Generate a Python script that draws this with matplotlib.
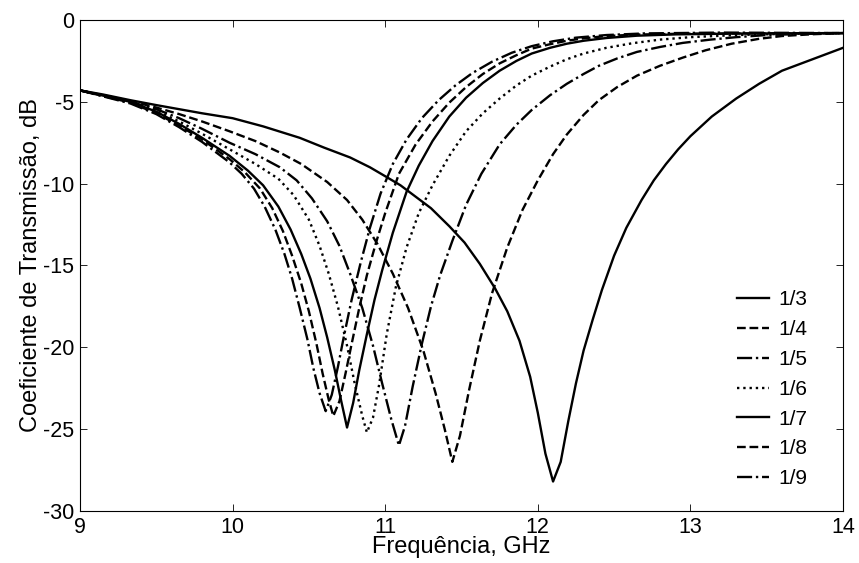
import numpy as np
import matplotlib
matplotlib.use('Agg')
import matplotlib.pyplot as plt

plt.rcParams['font.family'] = ['Liberation Sans', 'DejaVu Sans']
plt.rcParams['axes.unicode_minus'] = False

labels = ['1/3', '1/4', '1/5', '1/6', '1/7', '1/8', '1/9']

# 1/3
f13 = [9.0, 9.15, 9.33, 9.5, 9.65, 9.8, 10.0, 10.2, 10.44, 10.6, 10.77, 10.9, 11.01, 11.1,
       11.2, 11.3, 11.42, 11.52, 11.62, 11.72, 11.8, 11.88, 11.95, 12.0, 12.05, 12.1, 12.15,
       12.2, 12.25, 12.3, 12.36, 12.42, 12.5, 12.58, 12.68, 12.76, 12.84, 12.92, 13.0, 13.14,
       13.3, 13.45, 13.6, 13.8, 14.0]
s13 = [-4.3, -4.55, -4.9, -5.2, -5.45, -5.7, -6.0, -6.5, -7.2, -7.8, -8.4, -9.0, -9.6, -10.1,
       -10.8, -11.5, -12.6, -13.6, -14.9, -16.4, -17.8, -19.6, -21.8, -24.0, -26.5, -28.2, -27.0,
       -24.5, -22.2, -20.2, -18.3, -16.5, -14.4, -12.7, -11.0, -9.8, -8.8, -7.9, -7.1, -5.9,
       -4.8, -3.9, -3.1, -2.4, -1.7]
# 1/4
f14 = [9.0, 9.33, 9.5, 9.65, 9.8, 9.98, 10.15, 10.31, 10.45, 10.62, 10.75, 10.85, 10.95, 11.05,
       11.15, 11.25, 11.33, 11.39, 11.44, 11.49, 11.55, 11.62, 11.7, 11.8, 11.9, 12.0, 12.1,
       12.19, 12.3, 12.4, 12.52, 12.65, 12.8, 12.95, 13.1, 13.27, 13.45, 13.6, 13.8, 14.0]
s14 = [-4.3, -4.95, -5.35, -5.75, -6.2, -6.8, -7.4, -8.1, -8.8, -9.9, -11.0, -12.2, -13.7, -15.5,
       -17.6, -20.2, -22.8, -25.0, -27.0, -25.4, -22.6, -19.6, -16.7, -13.9, -11.6, -9.8, -8.2,
       -7.0, -5.8, -4.9, -4.1, -3.4, -2.8, -2.3, -1.85, -1.45, -1.15, -0.98, -0.87, -0.8]
# 1/5
f15 = [9.0, 9.33, 9.5, 9.65, 9.8, 9.98, 10.15, 10.31, 10.42, 10.52, 10.62, 10.7, 10.77, 10.85,
       10.92, 10.98, 11.04, 11.09, 11.13, 11.18, 11.24, 11.3, 11.36, 11.44, 11.53, 11.63, 11.75,
       11.86, 11.96, 12.08, 12.19, 12.3, 12.4, 12.52, 12.65, 12.8, 12.95, 13.13, 13.3, 13.5,
       13.75, 14.0]
s15 = [-4.3, -5.0, -5.45, -6.0, -6.65, -7.5, -8.2, -9.0, -9.8, -10.9, -12.3, -13.8, -15.5, -17.6,
       -19.9, -22.2, -24.4, -26.0, -24.8, -22.4, -19.8, -17.5, -15.6, -13.5, -11.3, -9.4, -7.6,
       -6.4, -5.5, -4.6, -3.9, -3.3, -2.8, -2.35, -1.95, -1.65, -1.4, -1.2, -1.05, -0.92,
       -0.85, -0.8]
# 1/6
f16 = [9.0, 9.33, 9.5, 9.65, 9.8, 9.98, 10.15, 10.3, 10.4, 10.5, 10.57, 10.63, 10.69, 10.75,
       10.8, 10.85, 10.88, 10.92, 10.96, 11.01, 11.07, 11.14, 11.22, 11.31, 11.42, 11.53, 11.64,
       11.75, 11.86, 11.96, 12.08, 12.19, 12.3, 12.45, 12.62, 12.8, 13.0, 13.3, 13.6, 14.0]
s16 = [-4.3, -5.0, -5.55, -6.2, -6.95, -7.9, -8.8, -9.7, -10.7, -12.2, -13.8, -15.5, -17.5, -19.9,
       -22.2, -24.2, -25.2, -24.3, -22.3, -19.2, -16.3, -13.9, -11.8, -10.1, -8.3, -6.8, -5.7,
       -4.8, -4.0, -3.4, -2.85, -2.4, -2.05, -1.7, -1.42, -1.2, -1.05, -0.92, -0.85, -0.8]
# 1/7
f17 = [9.0, 9.33, 9.5, 9.65, 9.8, 9.98, 10.1, 10.2, 10.3, 10.38, 10.45, 10.51, 10.57, 10.62,
       10.67, 10.71, 10.75, 10.79, 10.83, 10.88, 10.93, 10.98, 11.05, 11.14, 11.22, 11.31, 11.42,
       11.53, 11.64, 11.75, 11.86, 11.96, 12.08, 12.19, 12.3, 12.45, 12.65, 12.9, 13.3, 14.0]
s17 = [-4.3, -5.0, -5.6, -6.35, -7.2, -8.3, -9.2, -10.1, -11.4, -12.8, -14.3, -15.8, -17.6, -19.4,
       -21.4, -23.2, -24.9, -23.4, -21.4, -19.2, -17.1, -15.3, -13.0, -10.5, -8.9, -7.4, -5.9,
       -4.75, -3.85, -3.1, -2.5, -2.05, -1.7, -1.45, -1.27, -1.1, -0.96, -0.88, -0.83, -0.8]
# 1/8
f18 = [9.0, 9.33, 9.5, 9.65, 9.8, 9.98, 10.08, 10.18, 10.26, 10.33, 10.39, 10.45, 10.5, 10.55,
       10.59, 10.63, 10.66, 10.7, 10.74, 10.78, 10.83, 10.88, 10.94, 11.0, 11.09, 11.2, 11.31,
       11.42, 11.53, 11.64, 11.75, 11.86, 11.96, 12.08, 12.19, 12.3, 12.45, 12.65, 13.0, 14.0]
s18 = [-4.3, -5.05, -5.7, -6.45, -7.3, -8.5, -9.3, -10.3, -11.5, -12.9, -14.4, -16.1, -17.8, -19.8,
       -21.6, -23.2, -24.2, -23.3, -21.6, -19.8, -17.6, -15.6, -13.6, -11.8, -9.4, -7.6, -6.2,
       -5.05, -4.1, -3.3, -2.65, -2.15, -1.75, -1.48, -1.27, -1.12, -0.98, -0.89, -0.83, -0.8]
# 1/9
f19 = [9.0, 9.33, 9.5, 9.65, 9.8, 9.98, 10.06, 10.14, 10.21, 10.28, 10.34, 10.39, 10.44, 10.49,
       10.53, 10.57, 10.61, 10.65, 10.69, 10.73, 10.78, 10.84, 10.9, 10.97, 11.05, 11.14, 11.24,
       11.35, 11.46, 11.57, 11.7, 11.83, 11.96, 12.1, 12.25, 12.45, 12.7, 13.2, 14.0]
s19 = [-4.3, -5.1, -5.75, -6.55, -7.45, -8.7, -9.4, -10.3, -11.4, -12.8, -14.3, -15.8, -17.6, -19.5,
       -21.3, -22.8, -23.9, -22.9, -21.2, -19.3, -17.1, -14.8, -12.7, -10.6, -8.8, -7.3, -6.0,
       -4.9, -4.0, -3.25, -2.55, -2.0, -1.6, -1.3, -1.08, -0.92, -0.82, -0.77, -0.8]

freqs = [f13, f14, f15, f16, f17, f18, f19]
vals = [s13, s14, s15, s16, s17, s18, s19]
styles = ['-', '--', '-.', ':', '-', '--', '-.']

fig = plt.figure(figsize=(8.59, 5.63), dpi=100)
ax = fig.add_axes([0.0931, 0.0924, 0.8883, 0.8721])

for f, s, ls, lab in zip(freqs, vals, styles, labels):
    ax.plot(f, s, color='black', linestyle=ls, linewidth=1.7, label=lab)

ax.set_xlim(9, 14)
ax.set_ylim(-30, 0)
ax.set_xticks(np.arange(9, 15, 1))
ax.set_yticks(np.arange(-30, 1, 5))
ax.tick_params(direction='in', top=True, right=True, labelsize=15.5, length=5, width=0.6, pad=4)
for sp in ax.spines.values():
    sp.set_linewidth(0.8)

ax.set_xlabel('Frequência, GHz', fontsize=17, labelpad=-1)
ax.set_ylabel('Coeficiente de Transmissão, dB', fontsize=17, labelpad=1)

ax.legend(loc='lower right', frameon=False, fontsize=15, handlelength=1.55,
          handletextpad=0.45, labelspacing=0.52, bbox_to_anchor=(0.978, 0.008))

fig.savefig('out.png', dpi=100)
